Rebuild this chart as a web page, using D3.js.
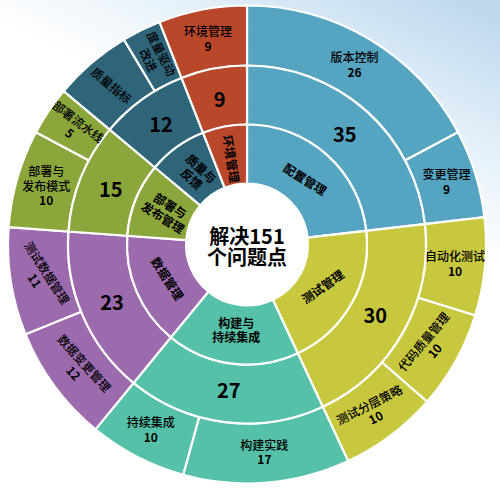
<!DOCTYPE html>
<html><head><meta charset="utf-8">
<script src="https://cdn.jsdelivr.net/npm/d3@7/dist/d3.min.js"></script>
<style>html,body{margin:0;padding:0;background:#fff;}svg{display:block;}</style>
</head><body>
<svg id="chart" width="500" height="492"></svg>
<script>
// ---- data ----
const categories = ["配置管理","测试管理","构建与持续集成","数据管理","部署与发布管理","质量与反馈","环境管理"];
const categoryTotals = [35,30,27,23,15,12,9];
const subcategories = [
  ["版本控制","变更管理"],
  ["自动化测试","代码质量管理","测试分层策略"],
  ["构建实践","持续集成"],
  ["数据变更管理","测试数据管理"],
  ["部署与发布模式","部署流水线"],
  ["质量指标","度量驱动改进"],
  ["环境管理"]
];
const subValues = [[26,9],[10,10,10],[17,10],[12,11],[10,5],[8,4],[9]];
const centerTitle = ["解决151","个问题点"];

// ---- style ----
const colors = ["#55a4c1","#c8c83f","#55c1a8","#9c6bae","#8ba73b","#2e6579","#b9472a"];
const innerLines = {"构建与持续集成":["构建与","持续集成"],"部署与发布管理":["部署与","发布管理"],"质量与反馈":["质量与","反馈"]};
const innerRot = {"配置管理":32,"测试管理":-35,"构建与持续集成":0,"数据管理":57,"部署与发布管理":32,"质量与反馈":43,"环境管理":81};
const outerLines = {"部署与发布模式":["部署与","发布模式"],"度量驱动改进":["度量驱动","改进"]};
const outerRot = {"代码质量管理":-50,"测试分层策略":-27,"数据变更管理":48,"测试数据管理":57,"部署流水线":37,"质量指标":40,"度量驱动改进":63};
const hideValue = new Set(["质量指标","度量驱动改进"]);
const font = "'Noto Sans CJK SC','Microsoft YaHei',sans-serif";

const W=500,H=492,cx=247,cy=244.5,r0=61,r1=120,r2=179,R=239;
const svg = d3.select("#chart");
const defs = svg.append("defs");
const lg = defs.append("linearGradient").attr("id","bg").attr("x1","0.9").attr("y1","0").attr("x2","0.7").attr("y2","0.4");
lg.append("stop").attr("offset","0").attr("stop-color","#bfdaef");
lg.append("stop").attr("offset","0.55").attr("stop-color","#e6f1f9");
lg.append("stop").attr("offset","1").attr("stop-color","#ffffff");
svg.append("rect").attr("width",W).attr("height",H).attr("fill","url(#bg)");

const g = svg.append("g").attr("transform",`translate(${cx},${cy})`);
const pie = d3.pie().sort(null).value(d=>d);
const catArcs = pie(categoryTotals);
const flatSubs = [], flatVals = [], flatCat = [];
subcategories.forEach((s,i)=>s.forEach((n,j)=>{flatSubs.push(n);flatVals.push(subValues[i][j]);flatCat.push(i);}));
const subArcs = pie(flatVals);

const arcInner = d3.arc().innerRadius(r0).outerRadius(r1);
const arcMid = d3.arc().innerRadius(r1).outerRadius(r2);
const arcOuter = d3.arc().innerRadius(r2).outerRadius(R);
const innerLabelArc = d3.arc().innerRadius(87).outerRadius(87);
const midLabelArc = d3.arc().innerRadius(147).outerRadius(147);

const strokeW = 2.2;
g.selectAll("path.outer").data(subArcs).join("path").attr("class","outer")
  .attr("d",arcOuter).attr("fill",(d,i)=>colors[flatCat[i]]).attr("stroke","#fff").attr("stroke-width",strokeW);
g.selectAll("path.mid").data(catArcs).join("path").attr("class","mid")
  .attr("d",arcMid).attr("fill",(d,i)=>colors[i]).attr("stroke","#fff").attr("stroke-width",strokeW);
g.selectAll("path.inner").data(catArcs).join("path").attr("class","inner")
  .attr("d",arcInner).attr("fill",(d,i)=>colors[i]).attr("stroke","#fff").attr("stroke-width",strokeW);

function multiLabel(sel, lines, size, weights, lh){
  const n = lines.length;
  const t = sel.append("text").attr("text-anchor","middle")
    .attr("font-family",font).attr("font-size",size).attr("fill","#000");
  lines.forEach((s,k)=>{
    t.append("tspan").attr("x",0).attr("y",(k-(n-1)/2)*lh).attr("dy","0.36em")
      .attr("font-weight",weights[k]).text(s);
  });
}

// inner labels
catArcs.forEach((d,i)=>{
  const name = categories[i];
  const [x,y] = innerLabelArc.centroid(d);
  const lab = g.append("g").attr("transform",`translate(${x},${y}) rotate(${innerRot[name]||0})`);
  const lines = innerLines[name]||[name];
  multiLabel(lab, lines, 12, lines.map(()=>"bold"), 14);
});
// middle numbers
catArcs.forEach((d,i)=>{
  const [x,y] = midLabelArc.centroid(d);
  g.append("text").attr("x",x).attr("y",y).attr("dy","0.36em").attr("text-anchor","middle")
    .attr("font-family",font).attr("font-size",20).attr("font-weight","bold").attr("fill","#000")
    .text(categoryTotals[i]);
});
// outer labels
subArcs.forEach((d,i)=>{
  const name = flatSubs[i];
  const [x,y] = arcOuter.centroid(d);
  const lab = g.append("g").attr("transform",`translate(${x},${y}) rotate(${outerRot[name]||0})`);
  const lines = (outerLines[name]||[name]).slice();
  const w = lines.map(()=>"500");
  if(!hideValue.has(name)){ lines.push(String(flatVals[i])); w.push("bold"); }
  multiLabel(lab, lines, 12, w, 14.5);
});
// center
const ct = g.append("g").attr("transform","translate(0,3)");
multiLabel(ct, centerTitle, 20, centerTitle.map(()=>"bold"), 21);
</script>
</body></html>
